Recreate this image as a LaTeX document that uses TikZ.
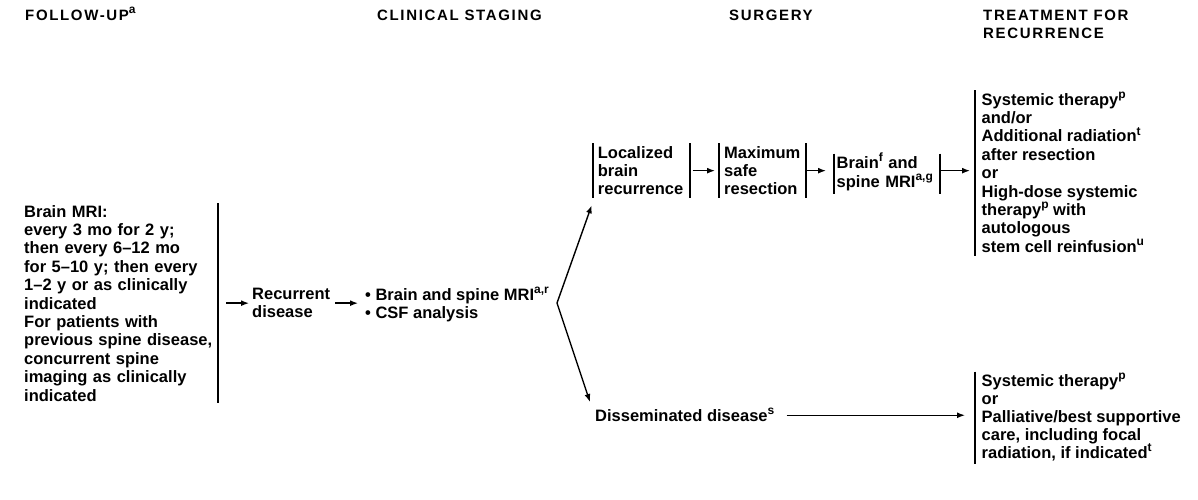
\documentclass[tikz,border=0pt]{standalone}
\usepackage{fontspec}
\setmainfont{Liberation Sans}
\newfontfamily\headfont[LetterSpace=11]{Liberation Sans Bold}
\usetikzlibrary{arrows.meta}
\newcommand{\fnm}[1]{\smash{\raisebox{0.42em}{\fontsize{12}{12}\selectfont #1}}}
\tikzset{
  txt/.style={inner sep=0pt, anchor=north west, align=left,
    font=\bfseries\fontsize{16.5}{18.4}\selectfont},
  bx/.style={txt, inner xsep=5pt, inner ysep=3pt},
  hd/.style={inner sep=0pt, anchor=north west, align=left,
    font=\headfont\fontsize{15}{18.6}\selectfont},
  bar/.style={line width=2pt},
  arr/.style={-{Latex[length=8pt,width=6pt]}, line width=1.4pt}
}

\begin{document}
\begin{tikzpicture}[x=1pt,y=-1pt]
\useasboundingbox (0,0) rectangle (1198,499);
% column heads
\node[hd] (h1) at (25,9.5) {FOLLOW-UP\fnm{a}};
\node[hd] (h2) at (377,9.5) {CLINICAL STAGING};
\node[hd] (h3) at (729,9.5) {SURGERY};
\node[hd] (h4) at (983,9.5) {TREATMENT FOR\\RECURRENCE};
% follow-up and staging
\node[txt, text width=194pt] (fu) at (24,205) {Brain MRI:\\every 3 mo for 2 y;\\then every 6--12 mo\\for 5--10 y; then every\\1--2 y or as clinically\\indicated\\For patients with\\previous spine disease,\\concurrent spine\\imaging as clinically\\indicated};
\draw[bar] ([yshift=2pt]fu.north east) -- ([yshift=-1pt]fu.south east);
\node[txt] (rec) at (252,288) {Recurrent\\disease};
\node[txt] (stg) at (365,288) {\textbullet\ Brain and spine MRI\fnm{a,r}\\\textbullet\ CSF analysis};
\coordinate (br) at (557,303);
% localized branch
\node[bx, text width=87pt] (loc) at (592.7,143) {Localized\\brain\\recurrence};
\node[bx, text width=76.7pt] (msr) at (719,143) {Maximum\\safe\\resection};
\node[bx, inner xsep=2.5pt, text width=101pt] (mri) at (834,153.5) {Brain\fnm{f} and\\spine MRI\fnm{a,g}};
\node[bx, inner xsep=6.5pt] (trt) at (975,90) {Systemic therapy\fnm{p}\\and/or\\Additional radiation\fnm{t}\\after resection\\or\\High-dose systemic\\therapy\fnm{p} with\\autologous\\stem cell reinfusion\fnm{u}};
\foreach \n in {loc,msr,mri}{
  \draw[bar] (\n.north west) -- (\n.south west);
  \draw[bar] (\n.north east) -- (\n.south east);
}
\draw[bar] (trt.north west) -- (trt.south west);
% disseminated branch
\node[txt] (dis) at (595,409) {Disseminated disease\fnm{s}};
\node[bx, inner xsep=6.5pt, font=\bfseries\fontsize{16.5}{18}\selectfont] (pal) at (975,371.5) {Systemic therapy\fnm{p}\\or\\Palliative/best supportive\\care, including focal\\radiation, if indicated\fnm{t}};
\draw[bar] (pal.north west) -- (pal.south west);
% arrows
\draw[arr, shorten <=8pt, shorten >=3pt] (fu.east |- rec.west) -- (rec.west);
\draw[arr, shorten <=5pt, shorten >=7pt] (rec.east) -- (rec.east -| stg.west);
\draw[arr] (br) -- ([xshift=-1pt,yshift=-7pt]loc.south west);
\draw[arr] (br) -- ([xshift=-5pt,yshift=7pt]dis.north west);
\draw[arr, shorten <=2.5pt, shorten >=4pt] (loc.east) -- (msr.west);
\draw[arr, shorten <=1pt, shorten >=8pt] (msr.east) -- (msr.east -| mri.west);
\draw[arr, shorten >=5pt] (mri.east |- msr.east) -- (msr.east -| trt.west);
\draw[arr, shorten <=12pt, shorten >=10pt] (dis.east) -- (dis.east -| pal.west);
\end{tikzpicture}
\end{document}
